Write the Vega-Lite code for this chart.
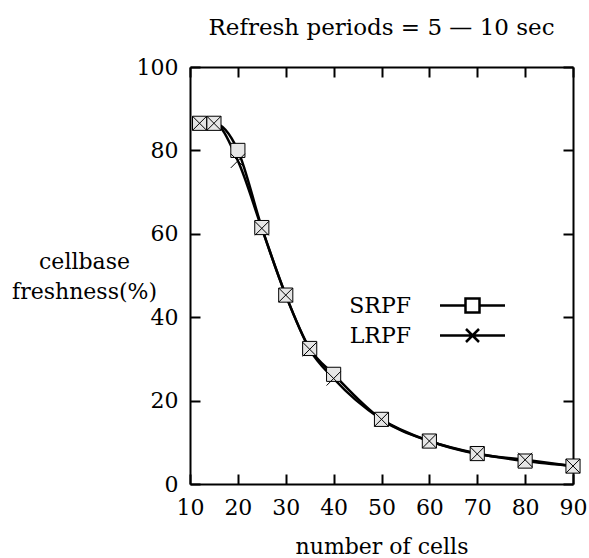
{
  "$schema": "https://vega.github.io/schema/vega-lite/v6.json",
  "width": 383,
  "height": 417,
  "autosize": "none",
  "padding": {"left": 190, "top": 67, "right": 16, "bottom": 74},
  "background": "white",
  "title": {"text": "Refresh periods = 5 — 10 sec", "font": "DejaVu Serif", "fontSize": 23, "fontWeight": "normal", "color": "black", "anchor": "middle", "offset": 16},
  "config": {
    "view": {"stroke": null},
    "axis": {"grid": false, "domainColor": "black", "domainWidth": 2, "tickColor": "black", "tickWidth": 2, "tickSize": -10, "labelFlush": false, "labelFont": "DejaVu Serif", "labelFontSize": 22, "labelColor": "black", "titleFont": "DejaVu Serif", "titleFontSize": 22, "titleFontWeight": "normal", "titleColor": "black"},
    "legend": {"labelFont": "DejaVu Serif", "labelFontSize": 22, "labelColor": "black", "padding": 0}
  },
  "data": {"values": [
    {"cells": 12, "freshness": 86.5, "series": "SRPF"},
    {"cells": 15, "freshness": 86.5, "series": "SRPF"},
    {"cells": 20, "freshness": 80, "series": "SRPF"},
    {"cells": 25, "freshness": 61.5, "series": "SRPF"},
    {"cells": 30, "freshness": 45.3, "series": "SRPF"},
    {"cells": 35, "freshness": 32.5, "series": "SRPF"},
    {"cells": 40, "freshness": 26.3, "series": "SRPF"},
    {"cells": 50, "freshness": 15.5, "series": "SRPF"},
    {"cells": 60, "freshness": 10.3, "series": "SRPF"},
    {"cells": 70, "freshness": 7.3, "series": "SRPF"},
    {"cells": 80, "freshness": 5.5, "series": "SRPF"},
    {"cells": 90, "freshness": 4.3, "series": "SRPF"},
    {"cells": 12, "freshness": 86.5, "series": "LRPF"},
    {"cells": 15, "freshness": 86.5, "series": "LRPF"},
    {"cells": 20, "freshness": 77.5, "series": "LRPF"},
    {"cells": 25, "freshness": 61.3, "series": "LRPF"},
    {"cells": 30, "freshness": 45.3, "series": "LRPF"},
    {"cells": 35, "freshness": 32.3, "series": "LRPF"},
    {"cells": 40, "freshness": 25.3, "series": "LRPF"},
    {"cells": 50, "freshness": 15.5, "series": "LRPF"},
    {"cells": 60, "freshness": 10.3, "series": "LRPF"},
    {"cells": 70, "freshness": 7.2, "series": "LRPF"},
    {"cells": 80, "freshness": 5.8, "series": "LRPF"},
    {"cells": 90, "freshness": 4.3, "series": "LRPF"}
  ]},
  "resolve": {"scale": {"shape": "independent"}},
  "layer": [
    {
      "mark": {"type": "line", "interpolate": "monotone", "stroke": "black", "strokeWidth": 2.5},
      "encoding": {
        "x": {"field": "cells", "type": "quantitative", "scale": {"domain": [10, 90], "nice": false}, "axis": {"orient": "top", "labels": false, "title": null, "values": [10,20,30,40,50,60,70,80,90]}},
        "y": {"field": "freshness", "type": "quantitative", "scale": {"domain": [0, 100], "nice": false}, "axis": {"orient": "right", "labels": false, "title": null, "values": [0,20,40,60,80,100]}},
        "detail": {"field": "series"}
      }
    },
    {
      "mark": {"type": "point", "fill": "#e6e6e6", "stroke": "black", "strokeWidth": 1, "size": 200, "opacity": 1},
      "encoding": {
        "x": {"field": "cells", "type": "quantitative", "axis": {"orient": "bottom", "values": [10,20,30,40,50,60,70,80,90], "labelPadding": 23, "title": "number of cells", "titlePadding": 18}},
        "y": {"field": "freshness", "type": "quantitative", "axis": {"orient": "left", "values": [0,20,40,60,80,100], "labelPadding": 22, "title": ["cellbase", "freshness(%)"], "titleAngle": 0, "titleAlign": "center", "titleBaseline": "alphabetic", "titleX": -106, "titleY": 201, "titleLineHeight": 30}},
        "shape": {"field": "series", "type": "nominal", "scale": {"domain": ["SRPF", "LRPF"], "range": ["square", "M-1,-1L1,1M-1,1L1,-1"]}, "legend": null}
      }
    },
    {
      "transform": [{"filter": "datum.cells < 0"}],
      "mark": {"type": "point", "fill": "white", "stroke": "black", "strokeWidth": 2.5, "opacity": 1},
      "encoding": {
        "x": {"field": "cells", "type": "quantitative", "axis": null},
        "y": {"field": "freshness", "type": "quantitative", "axis": null},
        "shape": {"field": "series", "type": "nominal",
          "scale": {"domain": ["SRPF", "LRPF"], "range": ["M-3.25,0H-0.7M0.7,0H3.25M-0.7,-0.7H0.7V0.7H-0.7Z", "M-3.25,0H3.25M-0.65,-0.65L0.65,0.65M-0.65,0.65L0.65,-0.65"]},
          "legend": {"title": null, "orient": "none", "legendX": 271, "legendY": 227, "symbolSize": 400, "symbolStrokeWidth": 2.5, "labelAlign": "right", "labelOffset": -73, "rowPadding": 6}}
      }
    }
  ]
}
